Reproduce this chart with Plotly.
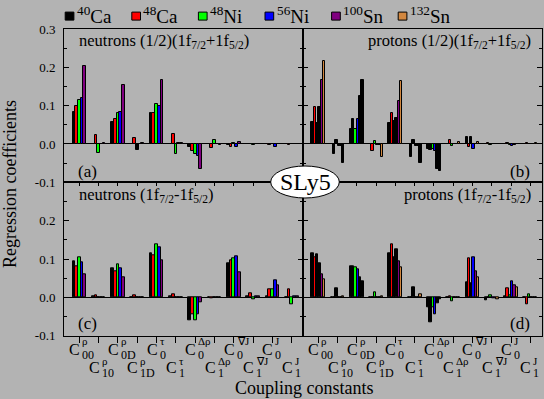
import plotly.graph_objects as go

# ---------------- data ----------------
label_sup = ["ρ", "ρ", "ρ", "ρ", "τ", "τ", "Δρ", "Δρ", "∇J", "∇J", "J", "J"]
label_sub = ["00", "10", "0D", "1D", "0", "1", "0", "1", "0", "1", "0", "1"]
groups = list(range(12))

mass = ["40", "48", "48", "56", "100", "132"]
elem = ["Ca", "Ca", "Ni", "Ni", "Sn", "Sn"]

# (a) neutrons (1/2)(1f7/2+1f5/2)
a40Ca  = [0.084, 0.000, 0.058, 0.000, 0.080, 0.000, -0.009, 0.000, -0.003, 0.000, 0.000, 0.000]
a48Ca  = [0.098, 0.024, 0.065, 0.016, 0.082, 0.027, -0.018, -0.011, -0.009, 0.000, -0.003, -0.003]
a48Ni  = [0.115, -0.024, 0.081, -0.016, 0.105, -0.027, -0.026, 0.011, 0.003, -0.003, 0.000, 0.000]
a56Ni  = [0.121, 0.000, 0.084, 0.000, 0.100, 0.002, -0.032, 0.000, -0.008, 0.000, -0.007, 0.000]
a100Sn = [0.204, 0.002, 0.154, 0.002, 0.168, 0.002, -0.065, -0.002, 0.006, 0.000, 0.000, 0.000]

# (b) protons (1/2)(1f7/2+1f5/2)
b40Ca  = [0.058, 0.000, 0.040, 0.000, 0.056, 0.000, -0.013, 0.000, 0.019, 0.000, 0.000, 0.000]
b48Ca  = [0.097, -0.027, 0.066, -0.019, 0.082, -0.033, -0.016, 0.011, -0.009, 0.003, 0.003, 0.003]
b48Ni  = [0.056, 0.011, 0.040, 0.009, 0.061, 0.011, -0.013, -0.005, 0.019, -0.003, -0.003, 0.000]
b56Ni  = [0.097, -0.004, 0.066, -0.003, 0.069, -0.004, -0.019, 0.000, -0.012, 0.000, -0.005, 0.000]
b100Sn = [0.168, -0.004, 0.124, -0.003, 0.113, -0.004, -0.065, 0.000, 0.000, 0.000, -0.003, 0.000]
b132Sn = [0.217, -0.050, 0.166, -0.033, 0.165, -0.050, -0.070, 0.005, 0.005, 0.000, 0.000, 0.002]

# (c) neutrons (1f7/2-1f5/2)
c40Ca  = [0.095, 0.003, 0.076, 0.000, 0.115, 0.002, -0.059, 0.000, 0.088, 0.002, 0.003, 0.000]
c48Ca  = [0.080, 0.005, 0.068, 0.005, 0.110, 0.008, -0.044, -0.003, 0.096, 0.010, 0.021, 0.021]
c48Ni  = [0.104, 0.000, 0.085, 0.000, 0.138, 0.000, -0.061, 0.000, 0.102, -0.006, 0.021, -0.019]
c56Ni  = [0.091, 0.000, 0.075, 0.000, 0.131, 0.000, -0.045, 0.000, 0.107, 0.002, 0.044, 0.002]
c100Sn = [0.059, 0.000, 0.052, 0.000, 0.097, 0.000, -0.014, 0.000, 0.065, 0.002, 0.032, 0.002]

# (d) protons (1f7/2-1f5/2)
d40Ca  = [0.115, 0.000, 0.081, 0.000, 0.115, 0.000, -0.027, 0.000, 0.038, -0.008, 0.003, 0.000]
d48Ca  = [0.104, 0.000, 0.081, 0.000, 0.138, 0.000, -0.064, 0.002, 0.101, 0.000, 0.024, -0.019]
d48Ni  = [0.112, 0.023, 0.079, 0.014, 0.104, 0.026, -0.027, -0.009, 0.037, 0.005, 0.006, 0.008]
d56Ni  = [0.089, 0.000, 0.073, 0.000, 0.125, 0.000, -0.045, 0.000, 0.104, -0.002, 0.041, 0.000]
d100Sn = [0.059, 0.000, 0.053, 0.000, 0.094, 0.000, -0.015, 0.000, 0.068, -0.003, 0.031, 0.000]
d132Sn = [0.047, 0.002, 0.042, 0.002, 0.078, 0.008, -0.006, 0.000, 0.052, -0.004, 0.026, 0.000]

# ---------------- style ----------------
COLORS = ["#000000", "#ff0000", "#00ff00", "#0000ff", "#800080", "#d2873f"]
BG = "#b3b3b3"
FONT = "Liberation Serif"
W, H = 544, 399

# bars that appear with a dark fill in the reference ('k')
dark_a = ["....."] * 3 + ["..k.."] + ["....."] * 8
dark_c = ["....."] * 12
dark_b = ["..kk..", ".kkkkk", ".k..kk", "...kk.", "..kk..", ".kkkkk",
          ".k..kk", "......", "..k...", "......", "......", "......"]
dark_d = ["..kk..", "..k...", ".k..kk", "......", "..kk..", "..k...",
          ".k..kk", "......", "..k...", "......", "......", "......"]

panels = [
    ("x", "y", [a40Ca, a48Ca, a48Ni, a56Ni, a100Sn], dark_a),
    ("x2", "y2", [b40Ca, b48Ca, b48Ni, b56Ni, b100Sn, b132Sn], dark_b),
    ("x3", "y3", [c40Ca, c48Ca, c48Ni, c56Ni, c100Sn], dark_c),
    ("x4", "y4", [d40Ca, d48Ca, d48Ni, d56Ni, d100Sn, d132Sn], dark_d),
]

def px(x):
    return x / W

def py(y):
    return 1 - y / H

fig = go.Figure()
for xa, ya, series, dark in panels:
    n = len(series)
    bw = 0.70 / n if n == 5 else 0.72 / n
    start = -bw * n / 2
    for k, vals in enumerate(series):
        cols = ["#000000" if dark[g][k] == "k" else COLORS[k] for g in groups]
        fig.add_trace(go.Bar(
            x=groups, y=vals, xaxis=xa, yaxis=ya,
            width=bw, offset=start + k * bw,
            marker=dict(color=cols, line=dict(color="black", width=1)),
            showlegend=False, hoverinfo="skip"))

# dummy traces to register top-tick axes of bottom panels
fig.add_trace(go.Scatter(x=[None], y=[None], xaxis="x5", yaxis="y3", showlegend=False))
fig.add_trace(go.Scatter(x=[None], y=[None], xaxis="x6", yaxis="y4", showlegend=False))

XR = [-0.79, 11.58]
xl = [px(64), px(303)]
xr = [px(303), px(541.5)]
yt = [py(182.3), py(29)]
yb = [py(335.7), py(182.3)]

def xaxis(dom, anchor, bottom_ticks):
    d = dict(domain=dom, anchor=anchor, range=XR, showline=True, linecolor="black",
             linewidth=1, mirror=True, showgrid=False, zeroline=False, automargin=False,
             showticklabels=False, tickvals=groups)
    if bottom_ticks:
        d.update(ticks="outside", ticklen=6, tickcolor="black", tickwidth=1)
    else:
        d.update(ticks="")
    return d

tick_v = [-0.1, 0.0, 0.1, 0.2, 0.3]

def yaxis(dom, anchor, labels, top):
    txt = ["-0.1", "0.0", "0.1", "0.2", "0.3"] if top else ["-0.1", "0.0", "0.1", "0.2", " "]
    return dict(domain=dom, anchor=anchor, range=[-0.1, 0.3], showline=True,
                linecolor="black", linewidth=1, mirror="ticks", showgrid=False,
                zeroline=True, zerolinecolor="black", zerolinewidth=1, automargin=False,
                ticks="inside", ticklen=5, tickcolor="black", tickwidth=1,
                tickvals=tick_v, ticktext=txt, showticklabels=labels,
                ticklabelstandoff=5,
                tickfont=dict(family=FONT, size=13, color="black"),
                minor=dict(dtick=0.05, ticks="inside", ticklen=3, tickcolor="black",
                           showgrid=False))

ann = []
shapes = []

# x tick labels (two staggered rows)
for xa in ["x3", "x4"]:
    for g in groups:
        row = g % 2
        cy, sy, uy = (349, 354.5, 340.5) if row == 0 else (367.5, 372.5, 361)
        ann.append(dict(x=g, y=py(cy), xref=xa, yref="paper", text="C",
                        xanchor="right", yanchor="middle", xshift=2, borderpad=0,
                        showarrow=False, font=dict(family=FONT, size=16, color="black")))
        ann.append(dict(x=g, y=py(sy), xref=xa, yref="paper", text=label_sub[g],
                        xanchor="left", yanchor="middle", xshift=2, borderpad=0,
                        showarrow=False, font=dict(family=FONT, size=12, color="black")))
        ann.append(dict(x=g, y=py(uy), xref=xa, yref="paper", text=label_sup[g],
                        xanchor="left", yanchor="middle", xshift=2, borderpad=0,
                        showarrow=False, font=dict(family=FONT, size=11, color="black")))

def txt(x, y, s, size, xanchor="left", angle=0):
    ann.append(dict(x=px(x), y=py(y), xref="paper", yref="paper", text=s,
                    xanchor=xanchor, yanchor="middle", showarrow=False, borderpad=0,
                    textangle=angle, font=dict(family=FONT, size=size, color="black")))

txt(78, 41, "neutrons (1/2)(1f<sub>7/2</sub>+1f<sub>5/2</sub>)", 16.5)
txt(532, 41, "protons (1/2)(1f<sub>7/2</sub>+1f<sub>5/2</sub>)", 16.5, "right")
txt(78, 195, "neutrons (1f<sub>7/2</sub>-1f<sub>5/2</sub>)", 16.5)
txt(532, 195, "protons (1f<sub>7/2</sub>-1f<sub>5/2</sub>)", 16.5, "right")
txt(77, 171, "(a)", 17)
txt(531, 171, "(b)", 17, "right")
txt(77, 323, "(c)", 17)
txt(531, 323, "(d)", 17, "right")
txt(10, 184, "Regression coefficients", 18, "center", -90)
txt(304, 388, "Coupling constants", 18, "center")

# SLy5 ellipse
shapes.append(dict(type="circle", xref="paper", yref="paper",
                   x0=px(270.7), x1=px(339.3), y0=py(198), y1=py(166),
                   fillcolor="white", line=dict(color="black", width=1), layer="above"))
txt(305, 182, "SLy5", 24, "center")

# legend (custom)
for k in range(6):
    x0 = 65.2 + 66.6 * k
    shapes.append(dict(type="rect", xref="paper", yref="paper",
                       x0=px(x0), x1=px(x0 + 8.7), y0=py(20.1), y1=py(12.1),
                       fillcolor=COLORS[k], line=dict(color="black", width=1)))
    txt(x0 + 10.5, 15, "<sup>%s</sup>%s" % (mass[k], elem[k]), 19)

fig.update_layout(
    template="none",
    width=W, height=H, margin=dict(l=0, r=0, t=0, b=0, autoexpand=False),
    paper_bgcolor=BG, plot_bgcolor=BG, barmode="overlay", bargap=0,
    showlegend=False,
    xaxis=xaxis(xl, "y", False), yaxis=yaxis(yt, "x", True, True),
    xaxis2=xaxis(xr, "y2", False), yaxis2=yaxis(yt, "x2", False, True),
    xaxis3=xaxis(xl, "y3", True), yaxis3=yaxis(yb, "x3", True, False),
    xaxis4=xaxis(xr, "y4", True), yaxis4=yaxis(yb, "x4", False, False),
    xaxis5=dict(overlaying="x3", anchor="y3", side="top", range=XR, tickvals=groups,
                ticks="inside", ticklen=4, tickcolor="black", showticklabels=False,
                showline=False, showgrid=False, zeroline=False, automargin=False),
    xaxis6=dict(overlaying="x4", anchor="y4", side="top", range=XR, tickvals=groups,
                ticks="inside", ticklen=4, tickcolor="black", showticklabels=False,
                showline=False, showgrid=False, zeroline=False, automargin=False),
    annotations=ann, shapes=shapes,
)

fig.write_html("out.html", config={"displayModeBar": False},
               post_script="document.body.style.margin='0';document.body.style.overflow='hidden';")
